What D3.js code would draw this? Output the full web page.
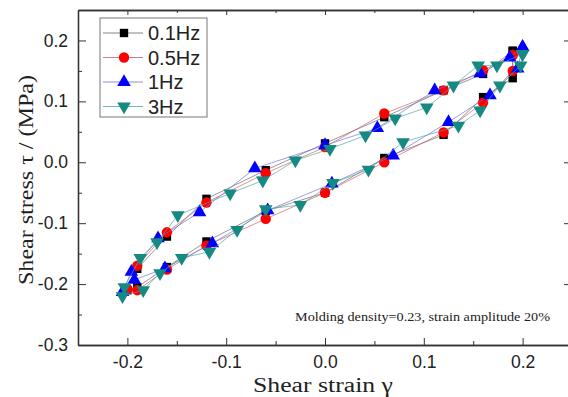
<!DOCTYPE html>
<html>
<head>
<meta charset="utf-8">
<style>
body { margin: 0; background: #fff; }
svg { display: block; }
.axis path, .axis line { stroke: #333; }
.axis text { font-family: "Liberation Sans", Arial, sans-serif; font-size: 17.5px; fill: #222; }
.title { font-family: "Liberation Serif", "Times New Roman", serif; fill: #222; }
</style>
</head>
<body>
<svg width="568" height="397"></svg>
<script src="https://cdn.jsdelivr.net/npm/d3@7"></script>
<script>
// shear strain / stress loops
var strain01 = [0.19, 0.16, 0.12, 0.06, 0.0, -0.06, -0.12, -0.16, -0.19, -0.2, -0.19, -0.16, -0.12, -0.06, 0.0, 0.06, 0.12, 0.16, 0.19, 0.19];
var stress01 = [0.183, 0.145, 0.118, 0.074, 0.031, -0.013, -0.06, -0.122, -0.175, -0.21, -0.205, -0.172, -0.13, -0.08, -0.05, 0.007, 0.045, 0.107, 0.138, 0.183];

var strain05 = [0.19, 0.16, 0.12, 0.06, 0.0, -0.06, -0.12, -0.16, -0.19, -0.2, -0.19, -0.16, -0.12, -0.06, 0.0, 0.06, 0.12, 0.16, 0.19, 0.19];
var stress05 = [0.176, 0.151, 0.118, 0.08, 0.025, -0.018, -0.066, -0.115, -0.17, -0.208, -0.21, -0.176, -0.137, -0.093, -0.05, 0.0, 0.049, 0.098, 0.15, 0.176];

var strain1 = [0.2, 0.187, 0.157, 0.111, 0.053, 0.0, -0.071, -0.127, -0.169, -0.196, -0.205, -0.193, -0.162, -0.114, -0.058, 0.007, 0.069, 0.125, 0.167, 0.195, 0.2];
var stress1 = [0.189, 0.172, 0.146, 0.118, 0.056, 0.028, -0.01, -0.082, -0.125, -0.18, -0.213, -0.193, -0.174, -0.133, -0.079, -0.035, 0.011, 0.066, 0.11, 0.154, 0.189];

var strain3 = [0.2, 0.174, 0.155, 0.13, 0.103, 0.071, 0.041, 0.005, -0.03, -0.063, -0.096, -0.149, -0.17, -0.187, -0.203, -0.205, -0.184, -0.167, -0.145, -0.117, -0.089, -0.06, -0.025, 0.008, 0.044, 0.079, 0.135, 0.157, 0.177, 0.198, 0.2];
var stress3 = [0.178, 0.159, 0.159, 0.126, 0.09, 0.072, 0.044, 0.022, 0.003, -0.03, -0.051, -0.087, -0.131, -0.157, -0.205, -0.22, -0.21, -0.182, -0.157, -0.147, -0.111, -0.077, -0.07, -0.034, -0.012, 0.033, 0.06, 0.085, 0.126, 0.159, 0.178];

var seriesNames = ["0.1Hz", "0.5Hz", "1Hz", "3Hz"];
var markerColors = ["#000000", "#ff0000", "#0000ff", "#148a82"];
var lineColors = ["#666666", "#c86060", "#7070d8", "#48a8a0"];
var markerTypes = [d3.symbolSquare, d3.symbolCircle, d3.symbolTriangle, d3.symbolTriangle];
var markerSizes = [70, 85, 80, 80];

var xTicks = [-0.2, -0.1, 0.0, 0.1, 0.2];
var yTicks = [-0.3, -0.2, -0.1, 0.0, 0.1, 0.2];
var xMinor = [-0.25, -0.15, -0.05, 0.05, 0.15, 0.25];
var yMinor = [-0.25, -0.15, -0.05, 0.05, 0.15, 0.25];

var note = "Molding density=0.23, strain amplitude 20%";

var series = [
  {name: seriesNames[0], xs: strain01, ys: stress01},
  {name: seriesNames[1], xs: strain05, ys: stress05},
  {name: seriesNames[2], xs: strain1, ys: stress1},
  {name: seriesNames[3], xs: strain3, ys: stress3}
];

var svg = d3.select("svg");
var mLeft = 78, mRight = 572, mTop = 10, mBottom = 345;

var x = d3.scaleLinear().domain([-0.25, 0.25]).range([mLeft, mRight]);
var y = d3.scaleLinear().domain([-0.3, 0.25]).range([mBottom, mTop]);
var fmt = d3.format(".1f");

// axes, ticks pointing inward
function axisG(gen, tx, ty) {
  return svg.append("g").attr("class", "axis")
    .attr("transform", "translate(" + tx + "," + ty + ")").call(gen);
}
axisG(d3.axisBottom(x).tickValues(xTicks).tickFormat(fmt).tickSize(-7).tickPadding(11).tickSizeOuter(0), 0, mBottom);
axisG(d3.axisBottom(x).tickValues(xMinor).tickFormat("").tickSize(-4).tickSizeOuter(0), 0, mBottom);
axisG(d3.axisTop(x).tickValues(xTicks).tickFormat("").tickSize(-5).tickSizeOuter(0), 0, mTop);
axisG(d3.axisTop(x).tickValues(xMinor).tickFormat("").tickSize(-3).tickSizeOuter(0), 0, mTop);
axisG(d3.axisLeft(y).tickValues(yTicks).tickFormat(fmt).tickSize(-8).tickPadding(10).tickSizeOuter(0), mLeft, 0);
axisG(d3.axisLeft(y).tickValues(yMinor).tickFormat("").tickSize(-4).tickSizeOuter(0), mLeft, 0);
axisG(d3.axisRight(y).tickValues(yTicks).tickFormat("").tickSize(-8).tickSizeOuter(0), mRight, 0);
axisG(d3.axisRight(y).tickValues(yMinor).tickFormat("").tickSize(-4).tickSizeOuter(0), mRight, 0);
svg.selectAll(".axis path").attr("stroke-width", 1.3);
svg.selectAll(".axis text").text(function() {
  return this.textContent.replace("\u2212", "-");
});

// loops
var line = d3.line().x(function(d) { return x(d[0]); }).y(function(d) { return y(d[1]); });
series.forEach(function(s, i) {
  var pts = s.xs.map(function(v, k) { return [v, s.ys[k]]; });
  var g = svg.append("g");
  g.append("path").attr("d", line(pts)).attr("fill", "none")
    .attr("stroke", lineColors[i]).attr("stroke-width", 0.8).attr("stroke-opacity", 0.85);
  var sym = d3.symbol().type(markerTypes[i]).size(markerSizes[i]);
  g.selectAll("path.m").data(pts).enter().append("path").attr("class", "m")
    .attr("d", sym)
    .attr("fill", markerColors[i])
    .attr("transform", function(d) {
      return "translate(" + x(d[0]) + "," + y(d[1]) + ")" + (i === 3 ? " rotate(180)" : "");
    });
});

// legend
var lg = svg.append("g");
lg.append("rect").attr("x", 100).attr("y", 18).attr("width", 107).attr("height", 99)
  .attr("fill", "#fff").attr("stroke", "#777").attr("stroke-width", 1);
series.forEach(function(s, i) {
  var cy = 33 + i * 24.5;
  lg.append("line").attr("x1", 103).attr("x2", 143).attr("y1", cy).attr("y2", cy)
    .attr("stroke", lineColors[i]).attr("stroke-width", 0.8);
  lg.append("path").attr("d", d3.symbol().type(markerTypes[i]).size(markerSizes[i]))
    .attr("fill", markerColors[i])
    .attr("transform", "translate(124," + cy + ")" + (i === 3 ? " rotate(180)" : ""));
  lg.append("text").attr("x", 148).attr("y", cy + 7).text(s.name)
    .attr("font-family", "Liberation Sans, Arial, sans-serif").attr("font-size", 20).attr("fill", "#222");
});

// titles
svg.append("text").attr("class", "title")
  .attr("transform", "translate(33,180) rotate(-90)")
  .attr("text-anchor", "middle").attr("font-size", 20)
  .attr("textLength", 210).attr("lengthAdjust", "spacingAndGlyphs")
  .text("Shear stress \u03c4 / (MPa)");
svg.append("text").attr("class", "title")
  .attr("x", 323).attr("y", 392).attr("text-anchor", "middle").attr("font-size", 20)
  .attr("textLength", 140).attr("lengthAdjust", "spacingAndGlyphs")
  .text("Shear strain \u03b3");
svg.append("text").attr("class", "title")
  .attr("x", 295).attr("y", 321).attr("font-size", 13.5)
  .attr("textLength", 255).attr("lengthAdjust", "spacingAndGlyphs")
  .text(note);
</script>
</body>
</html>
